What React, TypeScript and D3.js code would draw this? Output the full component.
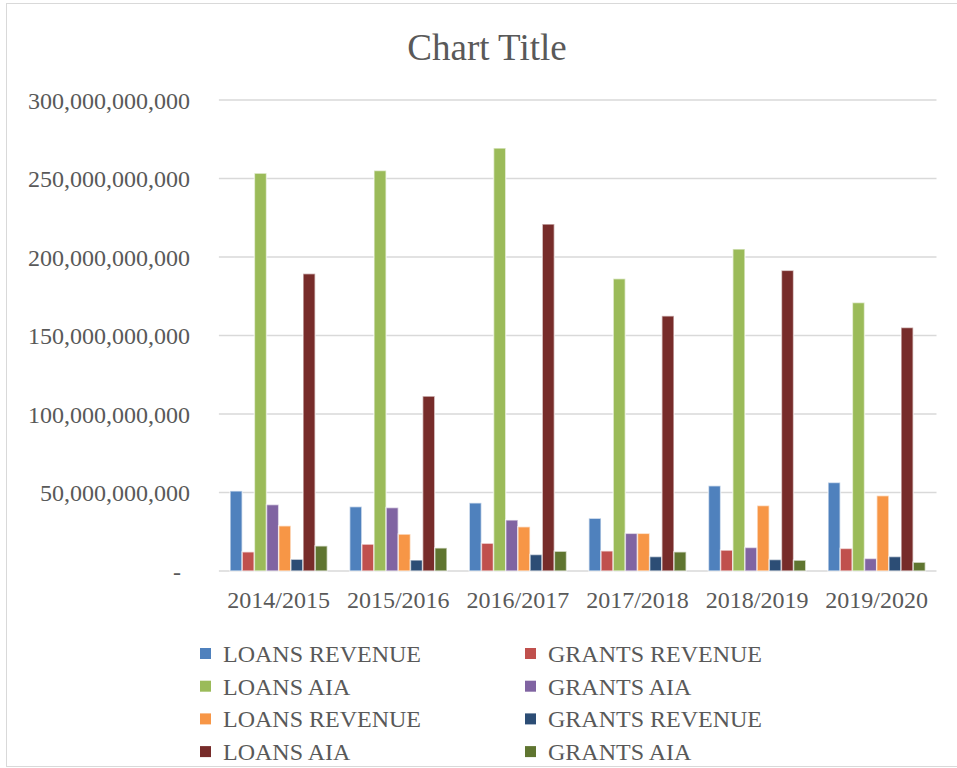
import React from "react";
import * as d3 from "d3";

const categories = ["2014/2015", "2015/2016", "2016/2017", "2017/2018", "2018/2019", "2019/2020"];
const seriesNames = [
  "LOANS REVENUE", "GRANTS REVENUE", "LOANS AIA", "GRANTS AIA",
  "LOANS REVENUE", "GRANTS REVENUE", "LOANS AIA", "GRANTS AIA",
];
const seriesColors = ["#4F81BD", "#C0504D", "#9BBB59", "#8064A2", "#F79646", "#2C4D75", "#772C2A", "#5F7530"];
const B = 1e9;
const s1 = [51, 41, 43.4, 33.6, 54.3, 56.4].map((v) => v * B);
const s2 = [12.2, 17.1, 17.7, 12.8, 13.3, 14.4].map((v) => v * B);
const s3 = [253.4, 255.1, 269.4, 186.2, 205.1, 171].map((v) => v * B);
const s4 = [42.3, 40.4, 32.5, 24, 15, 8].map((v) => v * B);
const s5 = [28.8, 23.5, 28.2, 24, 41.7, 48].map((v) => v * B);
const s6 = [7.5, 7, 10.5, 9.2, 7.3, 9.2].map((v) => v * B);
const s7 = [189.4, 111.4, 221, 162.5, 191.5, 155.1].map((v) => v * B);
const s8 = [16, 14.7, 12.6, 12.2, 6.9, 5.6].map((v) => v * B);
const seriesValues = [s1, s2, s3, s4, s5, s6, s7, s8];
const yTicks = [0, 50e9, 100e9, 150e9, 200e9, 250e9, 300e9];

const W = 957;
const H = 768;
const FONT = "'Liberation Serif', 'Times New Roman', serif";
const TEXT = "#595959";

export default function App() {
  const x0 = d3.scaleBand<string>().domain(categories).range([218.9, 936.5]).paddingInner(0).paddingOuter(0);
  const groupFrac = 0.8135;
  const bw = x0.bandwidth();
  const inner = bw * groupFrac;
  const x1 = d3
    .scaleBand<number>()
    .domain(d3.range(seriesValues.length))
    .range([(bw - inner) / 2, (bw + inner) / 2]);
  const y = d3.scaleLinear().domain([0, 300e9]).range([571, 100]);
  const fmt = d3.format(",");

  const legendRows = 4;
  return (
    <svg width={W} height={H} style={{ position: "absolute", left: 0, top: 0, background: "#fff" }}>
      <rect x={6.5} y={3.5} width={W + 10} height={763} fill="#fff" stroke="#D9D9D9" strokeWidth={1} />
      <text x={487} y={60} textAnchor="middle" fontFamily={FONT} fontSize={37} fill={TEXT}>
        Chart Title
      </text>
      {yTicks.map((t) => (
        <g key={t}>
          <line x1={218.9} x2={936.5} y1={y(t)} y2={y(t)} stroke="#D9D9D9" strokeWidth={1.5} />
          <text
            x={t === 0 ? 181 : 190}
            y={y(t) + 8.5}
            textAnchor="end"
            fontFamily={FONT}
            fontSize={24}
            fill={TEXT}
          >
            {t === 0 ? "-" : fmt(t)}
          </text>
        </g>
      ))}
      {categories.map((c, ci) => (
        <g key={c} transform={`translate(${x0(c)},0)`}>
          {seriesValues.map((vals, si) => (
            <rect
              key={si}
              x={x1(si)}
              y={y(vals[ci])}
              width={x1.bandwidth()}
              height={y(0) - y(vals[ci])}
              fill={seriesColors[si]}
              stroke="#fff"
              strokeOpacity={0.6}
              strokeWidth={1.5}
            />
          ))}
          <text
            x={bw / 2}
            y={608}
            textAnchor="middle"
            fontFamily={FONT}
            fontSize={24}
            fill={TEXT}
          >
            {c}
          </text>
        </g>
      ))}
      {seriesNames.map((name, i) => {
        const col = i % 2;
        const row = Math.floor(i / 2);
        const mx = col === 0 ? 200 : 525;
        const cy = 653.5 + row * 32.7;
        return (
          <g key={i}>
            <rect x={mx} y={cy - 5.5} width={11} height={11} fill={seriesColors[i]} />
            <text x={mx + 23} y={cy + 8.5} fontFamily={FONT} fontSize={24} fill={TEXT}>
              {name}
            </text>
          </g>
        );
      })}
      {legendRows ? null : null}
    </svg>
  );
}
